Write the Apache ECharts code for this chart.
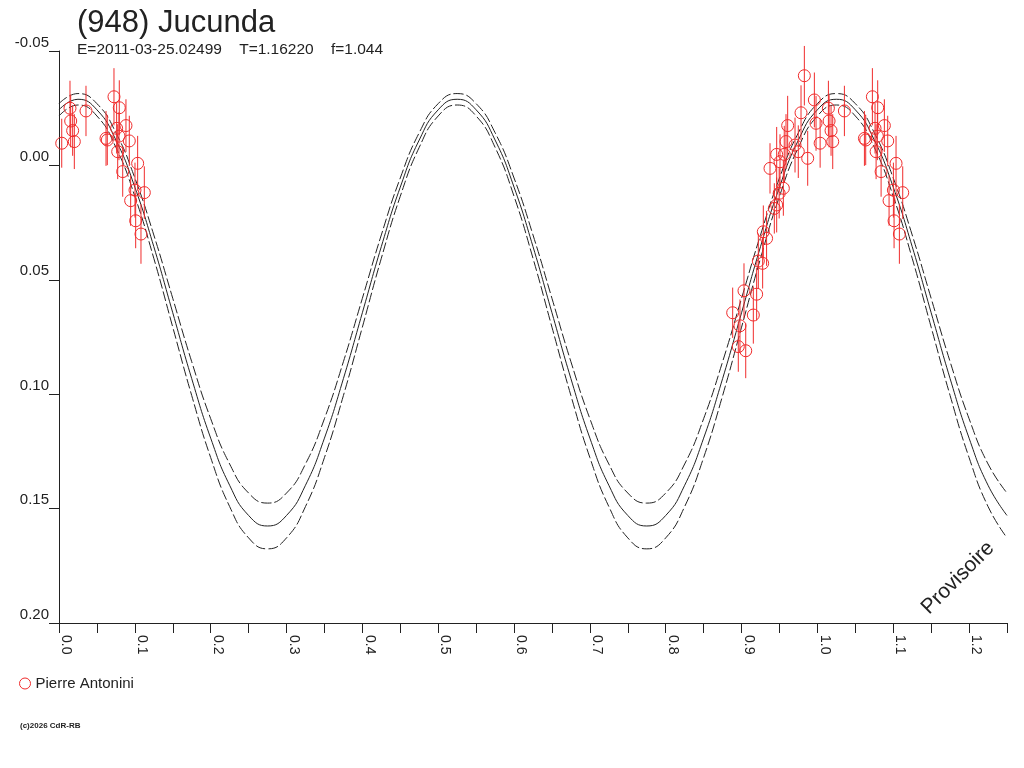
<!DOCTYPE html>
<html>

<head>
    <meta charset="utf-8">
    <title>(948) Jucunda</title>
    <script src="https://cdn.jsdelivr.net/npm/echarts@6/dist/echarts.min.js"></script>
    <style>
        * {
            margin: 0;
            padding: 0;
        }

        #view {
            width: 1024px;
            height: 768px;
            background: #fff;
        }
    </style>
</head>

<body>
    <div id="view"></div>
    <script>
        // courbe ajustee (phase / magnitude relative) + enveloppes
        var fitPhase = [0.000, 0.025, 0.050, 0.075, 0.100, 0.125, 0.150, 0.175, 0.200, 0.225,
            0.250, 0.275, 0.300, 0.325, 0.350, 0.375, 0.400, 0.425, 0.450, 0.475,
            0.500, 0.525, 0.550, 0.575, 0.600, 0.625, 0.650, 0.675, 0.700, 0.725,
            0.750, 0.775, 0.800, 0.825, 0.850, 0.875, 0.900, 0.925, 0.950, 0.975,
            1.000, 1.025, 1.050, 1.075, 1.100, 1.125, 1.150, 1.175, 1.200, 1.225, 1.250];
        var fitMid = [-0.0243, -0.0289, -0.0243, -0.0111, 0.0095, 0.0355, 0.0644, 0.0932, 0.1192, 0.1398,
            0.1530, 0.1576, 0.1530, 0.1398, 0.1192, 0.0932, 0.0644, 0.0355, 0.0095, -0.0111,
            -0.0243, -0.0289, -0.0243, -0.0111, 0.0095, 0.0355, 0.0644, 0.0932, 0.1192, 0.1398,
            0.1530, 0.1576, 0.1530, 0.1398, 0.1192, 0.0932, 0.0644, 0.0355, 0.0095, -0.0111,
            -0.0243, -0.0289, -0.0243, -0.0111, 0.0095, 0.0355, 0.0644, 0.0932, 0.1192, 0.1398, 0.1530];
        var fitUpper = [-0.0270, -0.0314, -0.0270, -0.0143, 0.0055, 0.0304, 0.0581, 0.0858, 0.1107, 0.1305,
            0.1432, 0.1476, 0.1432, 0.1305, 0.1107, 0.0858, 0.0581, 0.0304, 0.0055, -0.0143,
            -0.0270, -0.0314, -0.0270, -0.0143, 0.0055, 0.0304, 0.0581, 0.0858, 0.1107, 0.1305,
            0.1432, 0.1476, 0.1432, 0.1305, 0.1107, 0.0858, 0.0581, 0.0304, 0.0055, -0.0143,
            -0.0270, -0.0314, -0.0270, -0.0143, 0.0055, 0.0304, 0.0581, 0.0858, 0.1107, 0.1305, 0.1432];
        var fitLower = [-0.0216, -0.0264, -0.0216, -0.0079, 0.0135, 0.0406, 0.0707, 0.1006, 0.1277, 0.1491,
            0.1628, 0.1676, 0.1628, 0.1491, 0.1277, 0.1006, 0.0707, 0.0406, 0.0135, -0.0079,
            -0.0216, -0.0264, -0.0216, -0.0079, 0.0135, 0.0406, 0.0707, 0.1006, 0.1277, 0.1491,
            0.1628, 0.1676, 0.1628, 0.1491, 0.1277, 0.1006, 0.0707, 0.0406, 0.0135, -0.0079,
            -0.0216, -0.0264, -0.0216, -0.0079, 0.0135, 0.0406, 0.0707, 0.1006, 0.1277, 0.1491, 0.1628];

        // mesures Pierre Antonini (phase dans [0,1))
        var obsPhase = [0.0036, 0.0145, 0.0154, 0.0180, 0.0202, 0.0356, 0.0620, 0.0637, 0.0725, 0.0760,
            0.0774, 0.0791, 0.0795, 0.0840, 0.0883, 0.0927, 0.0945, 0.1002, 0.1011, 0.1037,
            0.1081, 0.1125,
            0.8883, 0.8957, 0.8979, 0.9032, 0.9055, 0.9155, 0.9199, 0.9221, 0.9278, 0.9287,
            0.9330, 0.9375, 0.9432, 0.9463, 0.9463, 0.9496, 0.9507, 0.9551, 0.9563, 0.9586,
            0.9608, 0.9705, 0.9748, 0.9784, 0.9828, 0.9872, 0.9960, 0.9982];
        var obsMag = [-0.0097, -0.0250, -0.0194, -0.0152, -0.0104, -0.0238, -0.0118, -0.0111, -0.0300, -0.0162,
            -0.0060, -0.0128, -0.0252, 0.0027, -0.0174, -0.0107, 0.0154, 0.0108, 0.0242, -0.0009,
            0.0300, 0.0119,
            0.0644, 0.0792, 0.0701, 0.0548, 0.0810, 0.0654, 0.0563, 0.0418, 0.0428, 0.0290,
            0.0319, 0.0013, 0.0188, 0.0173, -0.0048, 0.0122, -0.0016, 0.0100, -0.0048, -0.0104,
            -0.0174, -0.0089, -0.0060, -0.0230, -0.0392, -0.0031, -0.0286, -0.0184];
        var obsErr = [0.0107, 0.0120, 0.0115, 0.0110, 0.0120, 0.0110, 0.0120, 0.0110, 0.0125, 0.0110,
            0.0120, 0.0105, 0.0120, 0.0110, 0.0115, 0.0110, 0.0110, 0.0120, 0.0120, 0.0120,
            0.0130, 0.0115,
            0.0110, 0.0110, 0.0115, 0.0120, 0.0120, 0.0125, 0.0115, 0.0120, 0.0110, 0.0115,
            0.0120, 0.0110, 0.0110, 0.0120, 0.0120, 0.0110, 0.0120, 0.0120, 0.0125, 0.0120,
            0.0130, 0.0120, 0.0115, 0.0120, 0.0130, 0.0120, 0.0120, 0.0120];

        var RED = '#f02c2c';
        var INK = '#222';
        var FONT = 'Liberation Sans, Arial, sans-serif';

        function pairs(xs, ys) {
            var out = [];
            for (var i = 0; i < xs.length; i++) out.push([xs[i], ys[i]]);
            return out;
        }

        // les phases < 0.25 sont aussi tracees a phase+1
        var obs = [];
        for (var i = 0; i < obsPhase.length; i++) {
            obs.push([obsPhase[i], obsMag[i], obsErr[i]]);
            if (obsPhase[i] < 0.25) obs.push([obsPhase[i] + 1, obsMag[i], obsErr[i]]);
        }

        var view = echarts.init(document.getElementById('view'));
        var option = {
            animation: false,
            backgroundColor: '#fff',
            title: {
                text: '(948) Jucunda',
                subtext: 'E=2011-03-25.02499    T=1.16220    f=1.044',
                left: 77,
                top: 8,
                padding: 0,
                itemGap: 3,
                textStyle: { fontFamily: FONT, fontSize: 31, fontWeight: 'normal', color: INK },
                subtextStyle: { fontFamily: FONT, fontSize: 15.5, color: INK }
            },
            legend: {
                left: 19,
                top: 676,
                padding: 0,
                itemWidth: 11,
                itemHeight: 11,
                itemGap: 6,
                textStyle: { fontFamily: FONT, fontSize: 15, color: INK },
                data: [{
                    name: 'Pierre Antonini',
                    icon: 'circle',
                    itemStyle: { color: 'transparent', borderColor: RED, borderWidth: 1 }
                }]
            },
            grid: { left: 59, right: 17, top: 51, bottom: 145 },
            xAxis: {
                type: 'value',
                min: 0,
                max: 1.25,
                interval: 0.05,
                splitLine: { show: false },
                axisLine: { onZero: false, lineStyle: { color: INK, width: 1 } },
                axisTick: { length: 10, lineStyle: { color: INK } },
                axisLabel: {
                    rotate: -90,
                    margin: 12,
                    verticalAlign: 'bottom',
                    fontFamily: FONT,
                    fontSize: 14,
                    color: INK,
                    showMaxLabel: true,
                    formatter: function (v) {
                        var k = Math.round(v * 20);
                        return k % 2 === 0 ? (k / 20).toFixed(1) : '';
                    }
                }
            },
            yAxis: {
                type: 'value',
                inverse: true,
                min: -0.05,
                max: 0.20,
                interval: 0.05,
                splitLine: { show: false },
                axisLine: { show: true, onZero: false, lineStyle: { color: INK, width: 1 } },
                axisTick: { show: true, length: 10, lineStyle: { color: INK } },
                axisLabel: {
                    margin: 10,
                    verticalAlign: 'bottom',
                    padding: [0, 0, 1, 0],
                    fontFamily: FONT,
                    fontSize: 15,
                    color: INK,
                    formatter: function (v) {
                        if (Math.abs(v) < 1e-9) return '0.00';
                        return v.toFixed(2);
                    }
                }
            },
            graphic: [{
                type: 'text',
                x: 958,
                y: 578,
                rotation: Math.PI / 4,
                style: {
                    text: 'Provisoire',
                    fontFamily: FONT,
                    fontSize: 21,
                    fill: INK,
                    align: 'center',
                    verticalAlign: 'middle'
                }
            }, {
                type: 'text',
                left: 20,
                top: 722,
                style: {
                    text: '(c)2026 CdR-RB',
                    fontFamily: FONT,
                    fontSize: 8,
                    fontWeight: 'bold',
                    fill: INK
                }
            }],
            series: [{
                name: 'fit',
                type: 'line',
                data: pairs(fitPhase, fitMid),
                smooth: true,
                showSymbol: false,
                silent: true,
                lineStyle: { color: INK, width: 1 },
                z: 2
            }, {
                name: 'fit+',
                type: 'line',
                data: pairs(fitPhase, fitUpper),
                smooth: true,
                showSymbol: false,
                silent: true,
                lineStyle: { color: INK, width: 1, type: [10, 3] },
                z: 2
            }, {
                name: 'fit-',
                type: 'line',
                data: pairs(fitPhase, fitLower),
                smooth: true,
                showSymbol: false,
                silent: true,
                lineStyle: { color: INK, width: 1, type: [10, 3] },
                z: 2
            }, {
                // barres d'erreur
                name: 'err',
                type: 'custom',
                data: obs,
                encode: { x: 0, y: 1 },
                renderItem: function (params, api) {
                    var x = api.value(0), y = api.value(1), e = api.value(2);
                    var p1 = api.coord([x, y - e]);
                    var p2 = api.coord([x, y + e]);
                    return {
                        type: 'line',
                        shape: { x1: p1[0], y1: p1[1], x2: p2[0], y2: p2[1] },
                        style: { stroke: RED, lineWidth: 1 }
                    };
                },
                z: 3
            }, {
                name: 'Pierre Antonini',
                type: 'scatter',
                data: obs,
                symbol: 'circle',
                symbolSize: 12,
                itemStyle: { color: 'transparent', borderColor: RED, borderWidth: 1, opacity: 1 },
                z: 4
            }]
        };
        view.setOption(option);
    </script>
</body>

</html>
